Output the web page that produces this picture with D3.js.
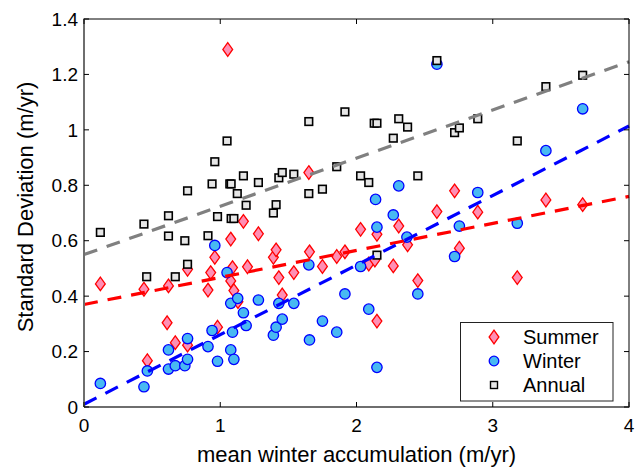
<!DOCTYPE html>
<html>
<head>
<meta charset="utf-8">
<script src="https://cdn.jsdelivr.net/npm/d3@7"></script>
<style>
  body { margin: 0; background: #fff; }
  svg text { font-family: "Liberation Sans", Arial, sans-serif; fill: #000; }
</style>
</head>
<body>
<div id="chart"></div>
<script>
// data
const summerX = [0.12,0.44,0.465,0.61,0.62,0.67,0.76,0.76,0.91,0.93,0.96,0.98,1.055,1.077,1.077,1.09,1.10,1.13,1.17,1.20,1.28,1.39,1.41,1.43,1.455,1.54,1.65,1.655,1.75,1.855,1.915,2.03,2.09,2.135,2.15,2.15,2.27,2.31,2.375,2.45,2.59,2.72,2.755,2.89,3.18,3.39,3.66];
const summerY = [0.444,0.425,0.167,0.304,0.437,0.232,0.223,0.497,0.422,0.485,0.54,0.288,1.29,0.606,0.455,0.503,0.42,0.38,0.67,0.506,0.625,0.54,0.567,0.467,0.404,0.485,0.846,0.56,0.507,0.543,0.56,0.641,0.516,0.53,0.623,0.31,0.509,0.653,0.585,0.456,0.705,0.78,0.573,0.703,0.467,0.747,0.73];

const winterX = [0.12,0.44,0.465,0.62,0.62,0.67,0.74,0.76,0.76,0.91,0.94,0.96,0.98,1.05,1.077,1.077,1.09,1.10,1.128,1.17,1.19,1.28,1.39,1.41,1.43,1.455,1.54,1.65,1.655,1.75,1.855,1.915,2.03,2.09,2.14,2.15,2.15,2.27,2.31,2.37,2.45,2.59,2.72,2.755,2.89,3.18,3.39,3.66];
const winterY = [0.085,0.073,0.13,0.137,0.206,0.149,0.149,0.172,0.247,0.218,0.276,0.583,0.165,0.485,0.206,0.374,0.27,0.172,0.392,0.34,0.294,0.386,0.259,0.288,0.374,0.317,0.374,0.513,0.242,0.31,0.27,0.408,0.507,0.353,0.749,0.649,0.143,0.693,0.798,0.613,0.408,1.237,0.543,0.653,0.774,0.663,0.925,1.076];

const annualX = [0.12,0.44,0.46,0.62,0.62,0.67,0.74,0.76,0.76,0.91,0.94,0.96,0.98,1.05,1.07,1.08,1.08,1.10,1.125,1.17,1.19,1.28,1.39,1.41,1.43,1.455,1.54,1.65,1.65,1.75,1.855,1.915,2.03,2.09,2.13,2.15,2.15,2.27,2.31,2.375,2.45,2.59,2.72,2.755,2.89,3.18,3.39,3.66];
const annualY = [0.63,0.66,0.47,0.69,0.617,0.47,0.60,0.515,0.78,0.618,0.805,0.885,0.687,0.96,0.805,0.805,0.68,0.68,0.77,0.834,0.728,0.81,0.70,0.73,0.827,0.846,0.84,1.03,0.77,0.786,0.867,1.065,0.834,0.81,1.024,1.024,0.548,0.97,1.04,1.01,0.834,1.25,0.99,1.007,1.04,0.96,1.156,1.197];

// dashed trend lines: intercept, slope (Summer, Winter, Annual)
const fitNames = ["Summer", "Winter", "Annual"];
const fitIntercepts = [0.37, 0.01, 0.55];
const fitSlopes = [0.0975, 0.251, 0.174];

const xTicks = [0, 1, 2, 3, 4];
const yTicks = [0, 0.2, 0.4, 0.6, 0.8, 1, 1.2, 1.4];

const W = 638, H = 467;
const pLeft = 84, pRight = 629, pTop = 19, pBottom = 407;

const svg = d3.select("#chart").append("svg")
    .attr("width", W)
    .attr("height", H)
    .attr("viewBox", `0 0 ${W} ${H}`);

const x = d3.scaleLinear().domain([0, 4]).range([pLeft, pRight]);
const y = d3.scaleLinear().domain([0, 1.4]).range([pBottom, pTop]);

const pair = (xs, ys) => xs.map((v, i) => ({x: v, y: ys[i]}));

const diamond = "M0,-6.8L4.9,0L0,6.8L-4.9,0Z";

function drawSummer(g, data){
    g.selectAll("path.summer").data(data).enter()
        .append("path").attr("class", "summer")
        .attr("d", diamond)
        .attr("transform", d => `translate(${x(d.x)},${y(d.y)})`)
        .attr("fill", "#ff8fb4")
        .attr("stroke", "#ff0000")
        .attr("stroke-width", 1.3);
}

function drawWinter(g, data){
    g.selectAll("circle.winter").data(data).enter()
        .append("circle").attr("class", "winter")
        .attr("cx", d => x(d.x))
        .attr("cy", d => y(d.y))
        .attr("r", 5.2)
        .attr("fill", "#48b9f2")
        .attr("stroke", "#0000ff")
        .attr("stroke-width", 1.3);
}

function drawAnnual(g, data){
    g.selectAll("rect.annual").data(data).enter()
        .append("rect").attr("class", "annual")
        .attr("x", d => x(d.x) - 3.8)
        .attr("y", d => y(d.y) - 3.8)
        .attr("width", 7.6)
        .attr("height", 7.6)
        .attr("fill", "#e6e6e6")
        .attr("stroke", "#000")
        .attr("stroke-width", 1.6);
}

const marks = svg.append("g");
drawSummer(marks, pair(summerX, summerY));
drawWinter(marks, pair(winterX, winterY));
drawAnnual(marks, pair(annualX, annualY));

// trend lines
const fitColors = ["#ff0000", "#0000ff", "#808080"];
const line = d3.line().x(d => x(d[0])).y(d => y(d[1]));
fitNames.forEach((name, i) => {
    const pts = [0, 4].map(v => [v, fitIntercepts[i] + fitSlopes[i] * v]);
    svg.append("path")
        .attr("d", line(pts))
        .attr("fill", "none")
        .attr("stroke", fitColors[i])
        .attr("stroke-width", 3.2)
        .attr("stroke-dasharray", "14,10");
});

// axes box
const axes = svg.append("g");
axes.append("line").attr("x1", pLeft).attr("x2", pRight).attr("y1", pTop).attr("y2", pTop)
    .attr("stroke", "#000").attr("stroke-width", 1);
axes.append("line").attr("x1", pRight).attr("x2", pRight).attr("y1", pTop).attr("y2", pBottom)
    .attr("stroke", "#000").attr("stroke-width", 1);
axes.append("line").attr("x1", pLeft).attr("x2", pRight + 0.5).attr("y1", pBottom).attr("y2", pBottom)
    .attr("stroke", "#6e6e6e").attr("stroke-width", 2);
axes.append("line").attr("x1", pLeft).attr("x2", pLeft).attr("y1", pTop - 0.5).attr("y2", pBottom)
    .attr("stroke", "#6e6e6e").attr("stroke-width", 2);

const tickLen = 5;
xTicks.forEach(t => {
    axes.append("line").attr("x1", x(t)).attr("x2", x(t)).attr("y1", pBottom).attr("y2", pBottom - tickLen)
        .attr("stroke", "#000");
    axes.append("line").attr("x1", x(t)).attr("x2", x(t)).attr("y1", pTop).attr("y2", pTop + tickLen)
        .attr("stroke", "#000");
    axes.append("text")
        .attr("x", x(t)).attr("y", 432)
        .attr("text-anchor", "middle")
        .attr("font-size", 19)
        .text(d3.format("~g")(t));
});
yTicks.forEach(t => {
    axes.append("line").attr("x1", pLeft).attr("x2", pLeft + tickLen).attr("y1", y(t)).attr("y2", y(t))
        .attr("stroke", "#000");
    axes.append("line").attr("x1", pRight).attr("x2", pRight - tickLen).attr("y1", y(t)).attr("y2", y(t))
        .attr("stroke", "#000");
    axes.append("text")
        .attr("x", 78).attr("y", y(t))
        .attr("dy", "0.35em")
        .attr("text-anchor", "end")
        .attr("font-size", 19)
        .text(d3.format("~g")(t));
});

svg.append("text")
    .attr("x", (pLeft + pRight) / 2).attr("y", 462)
    .attr("text-anchor", "middle")
    .attr("font-size", 22)
    .text("mean winter accumulation (m/yr)");

svg.append("text")
    .attr("transform", `translate(33,${(pTop + pBottom) / 2 - 6}) rotate(-90)`)
    .attr("text-anchor", "middle")
    .attr("font-size", 22)
    .text("Standard Deviation (m/yr)");

// legend
const lg = svg.append("g");
lg.append("rect")
    .attr("x", 460.5).attr("y", 322.5)
    .attr("width", 152.5).attr("height", 78.5)
    .attr("fill", "#fff").attr("stroke", "#222").attr("stroke-width", 1);
const rows = [337, 361, 385];
lg.append("path").attr("d", diamond).attr("transform", `translate(494,${rows[0]})`)
    .attr("fill", "#ff8fb4").attr("stroke", "#ff0000").attr("stroke-width", 1.3);
lg.append("circle").attr("cx", 494).attr("cy", rows[1]).attr("r", 4.8)
    .attr("fill", "#48b9f2").attr("stroke", "#0000ff").attr("stroke-width", 1.3);
lg.append("rect").attr("x", 490.5).attr("y", rows[2] - 3.5).attr("width", 7).attr("height", 7)
    .attr("fill", "#e6e6e6").attr("stroke", "#000").attr("stroke-width", 1.4);
fitNames.forEach((name, i) => {
    lg.append("text")
        .attr("x", 523).attr("y", rows[i])
        .attr("dy", "0.36em")
        .attr("font-size", 20)
        .text(name);
});
</script>
</body>
</html>
